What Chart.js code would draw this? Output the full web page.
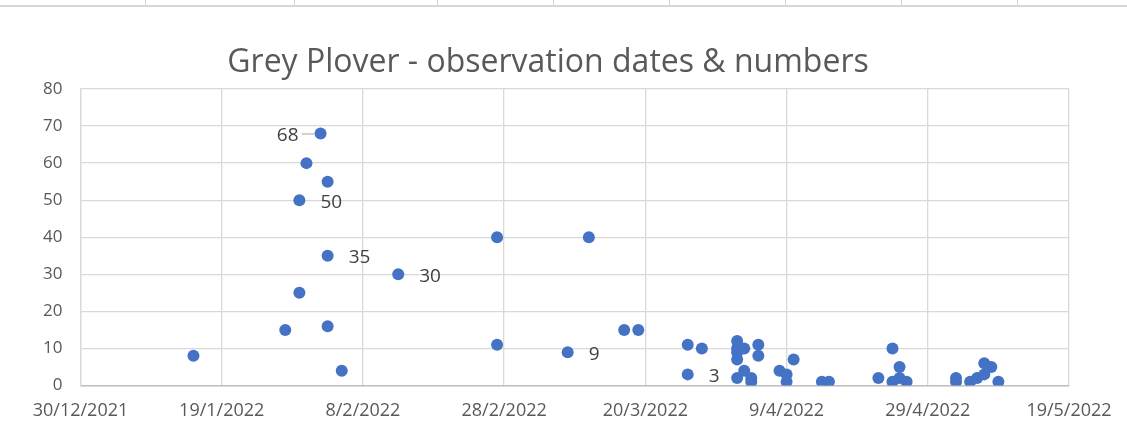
<!DOCTYPE html>
<html>
<head>
<meta charset="utf-8">
<script src="https://cdn.jsdelivr.net/npm/chart.js@4/dist/chart.umd.min.js"></script>
<style>
  html, body { margin: 0; padding: 0; background: #ffffff; }
  #wrap { position: relative; width: 1127px; height: 433px; overflow: hidden; }
  #c { position: absolute; left: 0; top: 0; }
  .topline { position: absolute; left: 0; top: 5px; width: 1127px; height: 2px; background: #d6d6d6; }
  .tick { position: absolute; top: 0; width: 1px; height: 6px; background: #d6d6d6; }
</style>
</head>
<body>
<div id="wrap">
  <canvas id="c" width="1127" height="433"></canvas>
  <div class="topline"></div>
</div>
<script>
// ---- Data ----
const obsDates = [
  "2022-01-15","2022-01-28","2022-01-30","2022-01-30","2022-01-31","2022-02-02",
  "2022-02-03","2022-02-03","2022-02-03","2022-02-05","2022-02-13","2022-02-27",
  "2022-02-27","2022-03-09","2022-03-12","2022-03-17","2022-03-19","2022-03-26",
  "2022-03-26","2022-03-28","2022-04-02","2022-04-02","2022-04-02","2022-04-02",
  "2022-04-02","2022-04-03","2022-04-03","2022-04-04","2022-04-04","2022-04-05",
  "2022-04-05","2022-04-08","2022-04-09","2022-04-09","2022-04-10","2022-04-14",
  "2022-04-15","2022-04-22","2022-04-24","2022-04-24","2022-04-25","2022-04-25",
  "2022-04-26","2022-05-03","2022-05-03","2022-05-05","2022-05-06","2022-05-07",
  "2022-05-07","2022-05-08","2022-05-09"
];
const birdCounts = [
  8,15,25,50,60,68,
  55,35,16,4,30,40,
  11,9,40,15,15,11,
  3,10,12,10,9,7,
  2,10,4,2,1,11,
  8,4,3,1,7,1,
  1,2,10,1,5,2,
  1,2,1,1,2,3,
  6,5,1
];
const labelledPoints = [5, 3, 7, 10, 13, 18];          // indices with data labels
const labelSides     = ["left","right","right","right","right","right"];
const axisStartDate = "2021-12-30";
const axisEndDate   = "2022-05-19";
const xTickStepDays = 20;
const yTicksMin = 0, yTicksMax = 80, yTickStep = 10;
const chartTitle = "Grey Plover - observation dates & numbers";

// ---- Helpers ----
const DAY = 86400000;
function toUTC(s){ const p = s.split("-").map(Number); return Date.UTC(p[0], p[1]-1, p[2]); }
const base = toUTC(axisStartDate);
const spanDays = (toUTC(axisEndDate) - base) / DAY;
function dayNum(s){ return (toUTC(s) - base) / DAY; }
function fmtDay(v){
  const d = new Date(base + Math.round(v) * DAY);
  return d.getUTCDate() + "/" + (d.getUTCMonth()+1) + "/" + d.getUTCFullYear();
}
const points = obsDates.map((s, i) => ({ x: dayNum(s), y: birdCounts[i] }));

// spreadsheet column ticks at top (decoration)
[145,294,437,553,669,785,901,1017].forEach(x => {
  const t = document.createElement("div"); t.className = "tick"; t.style.left = x + "px";
  document.getElementById("wrap").appendChild(t);
});

const FONT = "'Open Sans', 'Noto Sans', sans-serif";

const labelPlugin = {
  id: "pointLabels",
  afterDatasetsDraw(chart){
    const ctx = chart.ctx;
    const meta = chart.getDatasetMeta(0);
    ctx.save();
    ctx.font = "19px " + FONT;
    ctx.fillStyle = "#404040";
    ctx.textBaseline = "middle";
    labelledPoints.forEach((idx, k) => {
      const el = meta.data[idx];
      const txt = String(birdCounts[idx]);
      if (labelSides[k] === "left") {
        ctx.textAlign = "right";
        ctx.fillText(txt, el.x - 22, el.y + 2);
        ctx.strokeStyle = "#a6a6a6"; ctx.lineWidth = 1;
        ctx.beginPath(); ctx.moveTo(el.x - 19, el.y + 0.5); ctx.lineTo(el.x - 6, el.y + 0.5); ctx.stroke();
      } else {
        ctx.textAlign = "left";
        ctx.fillText(txt, el.x + 21, el.y + 2);
      }
    });
    ctx.restore();
  }
};

const titlePlugin = {
  id: "centredTitle",
  afterDraw(chart){
    const ctx = chart.ctx;
    ctx.save();
    ctx.font = "32px " + FONT;
    ctx.fillStyle = "#595959";
    ctx.textAlign = "center";
    ctx.textBaseline = "middle";
    ctx.fillText(chartTitle, 548, 63);
    ctx.restore();
  }
};

new Chart(document.getElementById("c"), {
  type: "scatter",
  data: {
    datasets: [{
      label: "Grey Plover",
      data: points,
      backgroundColor: "#4472C4",
      borderColor: "#4472C4",
      borderWidth: 0,
      pointRadius: 6,
      pointHoverRadius: 6
    }]
  },
  options: {
    responsive: false,
    animation: false,
    layout: { padding: { left: 0, right: 58, top: 89, bottom: 0 } },
    plugins: {
      legend: { display: false },
      tooltip: { enabled: false },
      title: { display: false }
    },
    scales: {
      x: {
        type: "linear",
        min: 0,
        max: spanDays,
        ticks: {
          stepSize: xTickStepDays,
          color: "#595959",
          font: { family: FONT, size: 18 },
          padding: 15,
          maxRotation: 0,
          autoSkip: false,
          callback: (v) => fmtDay(v)
        },
        grid: { color: "#d9d9d9", lineWidth: 1.3, drawTicks: false },
        border: { color: "#bfbfbf", width: 1.5 },
        afterFit: (s) => { s.height = 47.5; }
      },
      y: {
        min: yTicksMin,
        max: yTicksMax,
        ticks: {
          stepSize: yTickStep,
          color: "#595959",
          font: { family: FONT, size: 17 },
          padding: 18
        },
        grid: { color: "#d9d9d9", lineWidth: 1.3, drawTicks: false },
        border: { color: "#d9d9d9", width: 1.3 },
        afterFit: (s) => { s.width = 80.5; }
      }
    }
  },
  plugins: [labelPlugin, titlePlugin]
});
</script>
</body>
</html>
